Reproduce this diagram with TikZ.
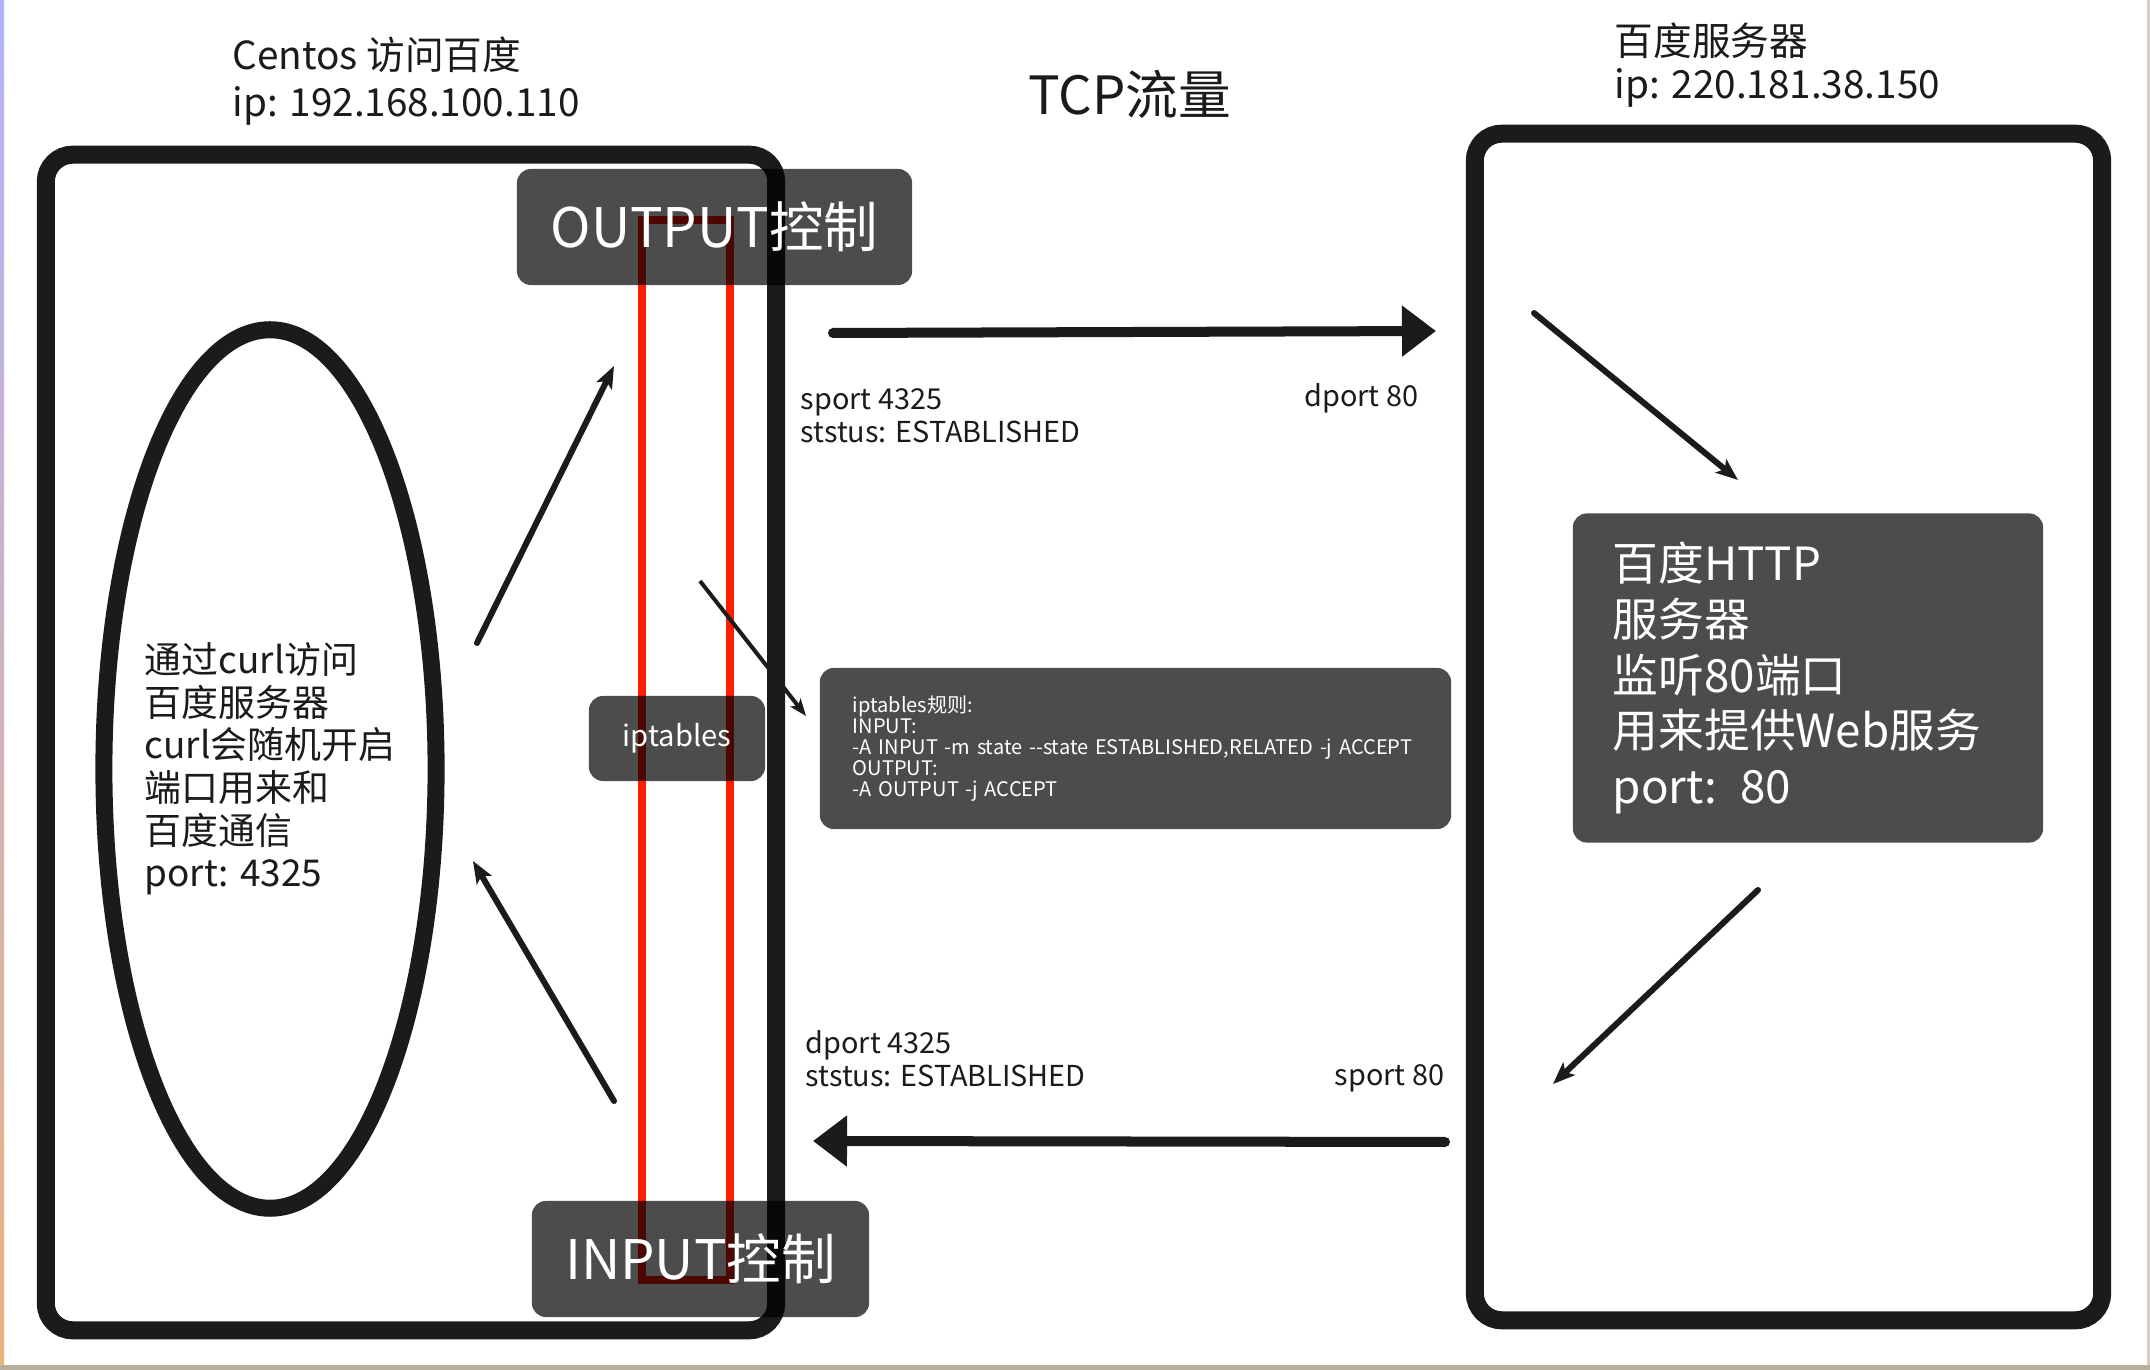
\documentclass[tikz,border=0pt]{standalone}
\usepackage{fontspec}
\setmainfont{Noto Sans CJK SC}
\usetikzlibrary{arrows.meta,shapes.geometric}
\definecolor{inkblack}{HTML}{1B1B1B}
\definecolor{fwred}{HTML}{FF1E00}
\definecolor{edgegray}{HTML}{B8AE9E}
\begin{document}
\begin{tikzpicture}[
    x=0.01cm, y=-0.01cm,
    >={Stealth[length=0.22cm,width=0.17cm,inset=0.05cm]},
    frame/.style={draw=inkblack, line width=0.18cm, rounded corners=0.27cm, inner sep=0pt},
    darkbox/.style={fill=black, fill opacity=0.7, text opacity=1, text=white, rounded corners=0.14cm, inner sep=0pt},
    title/.style={font=\fontsize{11}{13.4}\selectfont, text=inkblack, align=left, inner sep=0pt},
    portlabel/.style={font=\fontsize{8.2}{9.3}\selectfont, text=inkblack, align=left, inner sep=0pt},
    flow/.style={draw=inkblack, line width=0.1cm, line cap=round, -{Triangle[length=0.34cm,width=0.49cm]}},
    hop/.style={draw=inkblack, line width=0.06cm, line cap=round, ->}
]
% Page
\fill[white] (0,0) rectangle (2150,1370);
\shade[top color=blue!30!white, bottom color=orange!45!brown!60!white] (0,0) rectangle (4,1370);
\fill[edgegray] (0,1365) rectangle (2150,1370);
\fill[edgegray!60!white] (2147,0) rectangle (2150,1365);
\useasboundingbox (0,0) rectangle (2150,1370);

% Blocks
\node [frame, minimum width=7.3cm, minimum height=11.75cm] (centos) at (411,742.5) {};
\node [frame, minimum width=6.27cm, minimum height=11.86cm] (baidu) at (1788.5,727) {};
\node [ellipse, draw=inkblack, line width=0.17cm, minimum width=3.32cm, minimum height=8.78cm] (client) at (270,769) {};
\node [font=\fontsize{10.5}{12.1}\selectfont, text=inkblack, align=left, inner sep=0pt] (clientText) at (client.center) {通过curl访问\\百度服务器\\curl会随机开启\\端口用来和\\百度通信\\port: 4325};
\node [draw=fwred, line width=0.08cm, minimum width=0.88cm, minimum height=10.6cm, inner sep=0pt] (wall) at (686,750) {};
\node [darkbox, minimum width=3.95cm, minimum height=1.16cm, font=\fontsize{15.5}{18}\selectfont] (outCtl) at (714.5,227) {OUTPUT控制};
\node [darkbox, minimum width=3.37cm, minimum height=1.16cm, font=\fontsize{15.5}{18}\selectfont] (inCtl) at (700.5,1259) {INPUT控制};
\node [darkbox, minimum width=1.76cm, minimum height=0.85cm, font=\fontsize{8.3}{10}\selectfont] (ipt) at (677,738.5) {iptables};
\node [darkbox, minimum width=6.31cm, minimum height=1.61cm, text width=5.65cm, align=left, font=\fontsize{5.7}{6}\selectfont] (rules) at (1135.5,748.5) {iptables规则:\\INPUT:\\-A INPUT -m state -{}-state ESTABLISHED,RELATED -j ACCEPT\\OUTPUT:\\-A OUTPUT -j ACCEPT};
\node [darkbox, minimum width=4.7cm, minimum height=3.29cm, text width=3.9cm, align=left, font=\fontsize{13}{15.8}\selectfont] (httpSrv) at (1808,678) {百度HTTP\\服务器\\监听80端口\\用来提供Web服务\\port: 80};

% Labels
\node [title, anchor=north west] (centosTitle) at (232,36) {Centos 访问百度\\ip: 192.168.100.110};
\node [title, anchor=north west, font=\fontsize{11}{12.4}\selectfont] (baiduTitle) at (1614,22) {百度服务器\\ip: 220.181.38.150};
\node [font=\fontsize{15}{18}\selectfont, text=inkblack, inner sep=0pt, anchor=base] (tcp) at (1130,115) {TCP流量};
\node [portlabel, anchor=north west] (reqSrc) at (800,388) {sport 4325\\ststus: ESTABLISHED};
\node [portlabel, anchor=base east] (reqDst) at (1419,407) {dport 80};
\node [portlabel, anchor=north west] (respDst) at (805,1030) {dport 4325\\ststus: ESTABLISHED};
\node [portlabel, anchor=base east] (respSrc) at (1445,1086) {sport 80};

% Connections
\coordinate (upTail) at (477,643);
\coordinate (upHead) at (614,366);
\coordinate (downTail) at (614,1101);
\coordinate (downHead) at (473,861);
\coordinate (ruleTail) at (700,581);
\coordinate (ruleHead) at (806,716);
\coordinate (reqTail) at (833,333);
\coordinate (reqHead) at (1436,331);
\coordinate (srvInTail) at (1534,313);
\coordinate (srvInHead) at (1738,480);
\coordinate (srvOutTail) at (1758,890);
\coordinate (srvOutHead) at (1553,1084);
\coordinate (respTail) at (1445,1142);
\coordinate (respHead) at (813,1141);
\draw [hop] (upTail) -- (upHead);
\draw [hop] (downTail) -- (downHead);
\draw [draw=inkblack, line width=0.04cm, -{Stealth[length=0.17cm,width=0.13cm,inset=0.04cm]}] (ruleTail) -- (ruleHead);
\draw [flow] (reqTail) -- (reqHead);
\draw [hop] (srvInTail) -- (srvInHead);
\draw [hop] (srvOutTail) -- (srvOutHead);
\draw [flow] (respTail) -- (respHead);
\end{tikzpicture}
\end{document}
